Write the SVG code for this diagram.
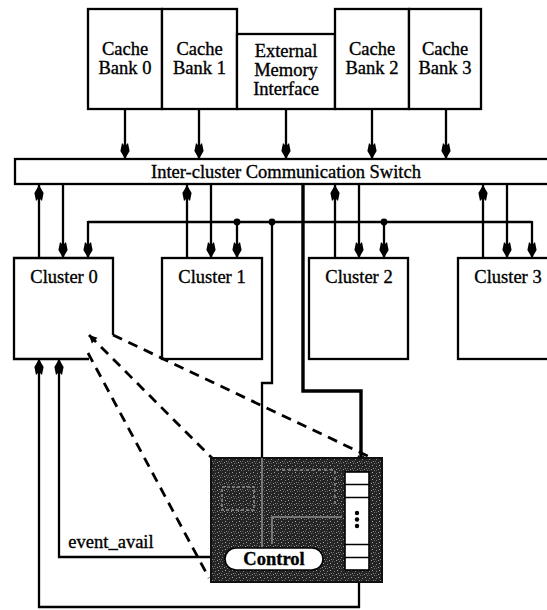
<svg xmlns="http://www.w3.org/2000/svg" width="547" height="610" viewBox="0 0 547 610">
<style>
.box{fill:#fff;stroke:#000;stroke-width:2.3}
.ln{fill:none;stroke:#000;stroke-width:2.3}
.thick{stroke-width:3.4}
.dash{fill:none;stroke:#000;stroke-width:2.8;stroke-dasharray:10 7}
.t{font-family:"Liberation Serif","Times New Roman",serif;font-size:18.5px;text-anchor:middle;fill:#000;stroke:#000;stroke-width:0.35}
.faint{fill:none;stroke:#8c8c8c;stroke-width:1.5}
</style>
<defs>
<marker id="ah" markerUnits="userSpaceOnUse" markerWidth="18" markerHeight="12" viewBox="-17 -6 18 12" refX="0" refY="0" orient="auto">
<path d="M0,0 L-8,-4.6 L-16,-3 L-13,0 L-16,3 L-8,4.6 Z" fill="#000"/>
</marker>
<marker id="ahs" markerUnits="userSpaceOnUse" markerWidth="12" markerHeight="10" viewBox="-10 -5 12 10" refX="0" refY="0" orient="auto-start-reverse">
<path d="M0,0 L-8,-4 L-8,4 Z" fill="#000"/>
</marker>
<pattern id="stip" width="7" height="7" patternUnits="userSpaceOnUse">
<rect width="7" height="7" fill="#242424"/>
<rect x="0" y="0" width="1" height="1" fill="#9a9a9a"/>
<rect x="3" y="1" width="1" height="1" fill="#777"/>
<rect x="1" y="3" width="1" height="1" fill="#aaa"/>
<rect x="5" y="4" width="1" height="1" fill="#858585"/>
<rect x="5" y="1" width="1" height="1" fill="#5a5a5a"/>
<rect x="2" y="6" width="1" height="1" fill="#8a8a8a"/>
<rect x="4" y="6" width="1" height="1" fill="#666"/>
</pattern>
</defs>
<rect width="547" height="610" fill="#fff"/>

<g id="cache-bank-0">
<rect class="box" x="88" y="9" width="74" height="100"/>
<text class="t" x="125" y="55">Cache</text>
<text class="t" x="125" y="74">Bank 0</text>
</g>
<g id="cache-bank-1">
<rect class="box" x="162" y="9" width="75" height="100"/>
<text class="t" x="199.5" y="55">Cache</text>
<text class="t" x="199.5" y="74">Bank 1</text>
</g>
<g id="external-memory-interface">
<rect class="box" x="237" y="34" width="98" height="75"/>
<text class="t" x="286" y="57">External</text>
<text class="t" x="286" y="76">Memory</text>
<text class="t" x="286" y="95">Interface</text>
</g>
<g id="cache-bank-2">
<rect class="box" x="335" y="9" width="74" height="100"/>
<text class="t" x="372" y="55">Cache</text>
<text class="t" x="372" y="74">Bank 2</text>
</g>
<g id="cache-bank-3">
<rect class="box" x="409" y="9" width="72" height="100"/>
<text class="t" x="445" y="55">Cache</text>
<text class="t" x="445" y="74">Bank 3</text>
</g>

<g id="switch">
<rect class="box" x="15" y="159" width="545" height="25"/>
<text class="t" x="286" y="178">Inter-cluster Communication Switch</text>
</g>

<g id="cluster-0">
<path class="ln" d="M89,359 H14 V258 H113 V335"/>
<text class="t" x="64" y="283">Cluster 0</text>
</g>
<g id="cluster-1">
<rect class="box" x="162" y="258" width="100" height="101"/>
<text class="t" x="212" y="283">Cluster 1</text>
</g>
<g id="cluster-2">
<rect class="box" x="309" y="258" width="99" height="101"/>
<text class="t" x="359" y="283">Cluster 2</text>
</g>
<g id="cluster-3">
<rect class="box" x="458" y="258" width="110" height="101"/>
<text class="t" x="508" y="283">Cluster 3</text>
</g>

<g id="connectors">
<path class="ln" d="M125,109 V159" marker-end="url(#ah)"/>
<path class="ln" d="M199,109 V159" marker-end="url(#ah)"/>
<path class="ln" d="M286,109 V159" marker-end="url(#ah)"/>
<path class="ln" d="M372,109 V159" marker-end="url(#ah)"/>
<path class="ln" d="M446,109 V159" marker-end="url(#ah)"/>
<path class="ln" d="M39,258 V185" marker-end="url(#ah)"/>
<path class="ln" d="M63,184 V258" marker-end="url(#ah)"/>
<path class="ln" d="M187,258 V185" marker-end="url(#ah)"/>
<path class="ln" d="M211,184 V258" marker-end="url(#ah)"/>
<path class="ln" d="M335,258 V185" marker-end="url(#ah)"/>
<path class="ln" d="M359,184 V258" marker-end="url(#ah)"/>
<path class="ln" d="M483,258 V185" marker-end="url(#ah)"/>
<path class="ln" d="M507,184 V258" marker-end="url(#ah)"/>
<path class="ln" d="M88,222 H532"/>
<path class="ln" d="M88,221 V258" marker-end="url(#ah)"/>
<path class="ln" d="M532,221 V258" marker-end="url(#ah)"/>
<path class="ln" d="M237,222 V258" marker-end="url(#ah)"/>
<path class="ln" d="M384,222 V258" marker-end="url(#ah)"/>
<circle cx="237" cy="222" r="3.4"/>
<circle cx="272" cy="222" r="3.4"/>
<circle cx="384" cy="222" r="3.4"/>
<path class="ln" d="M272,222 V383 H262 V458"/>
<path class="ln thick" d="M303,185 V391 H361 V471" marker-end="url(#ah)"/>
<path class="ln" d="M359,571 V607 H39 V359" marker-end="url(#ah)"/>
<path class="ln" d="M211,557 H59 V359" marker-end="url(#ah)"/>
<text class="t" x="111" y="548">event_avail</text>
<path class="dash" d="M89,335 L212,458" marker-start="url(#ahs)"/>
<path class="dash" d="M113,335 L372,458"/>
<path class="dash" d="M88,353 L209,578"/>
</g>

<g id="control-detail">
<rect x="211" y="458" width="171" height="124" fill="url(#stip)" stroke="#111" stroke-width="2"/>
<path class="faint" d="M262,458 V548"/>
<path class="faint" d="M272,544 V517 H342"/>
<path class="faint" d="M222,487 H254 V510 H222 Z" stroke="#5a5a5a" stroke-dasharray="3 2"/>
<path class="faint" d="M276,470 H335 V505" stroke="#5a5a5a" stroke-dasharray="3 3"/>
<rect x="345" y="472" width="24" height="98" fill="#fff" stroke="#000" stroke-width="1.6"/>
<path d="M345,484.5 H369 M345,497.5 H369 M345,544.5 H369 M345,557.5 H369" stroke="#000" stroke-width="1.6"/>
<circle cx="357" cy="513" r="2.2"/>
<circle cx="357" cy="519.5" r="2.2"/>
<circle cx="357" cy="526" r="2.2"/>
<rect x="225" y="548" width="98" height="22" rx="11" fill="#fff" stroke="#000" stroke-width="1.6"/>
<text class="t" x="274" y="565" font-weight="bold" font-size="17.5">Control</text>
</g>
</svg>
